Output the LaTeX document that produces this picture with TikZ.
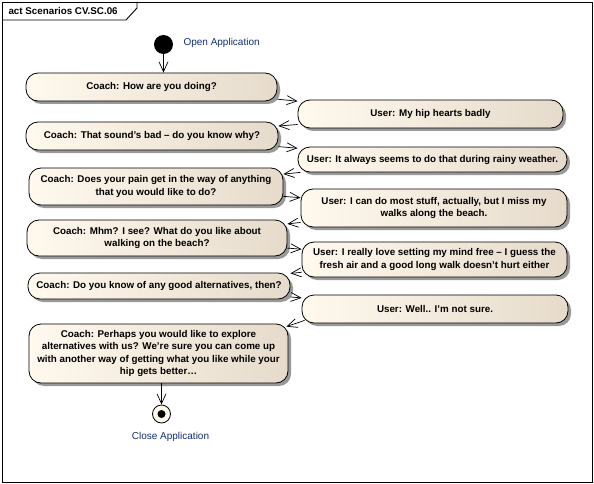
\documentclass[tikz,border=0pt]{standalone}
\usepackage{fontspec}
\setmainfont{Liberation Sans}
\usetikzlibrary{arrows.meta,shadows,calc}
\definecolor{nodeL}{RGB}{255,249,238}
\definecolor{nodeR}{RGB}{230,219,203}
\definecolor{labelblue}{RGB}{20,45,110}
\begin{document}
\begin{tikzpicture}[x=1pt,y=1pt,
  act/.style={rectangle, rounded corners=12pt, draw=black, line width=0.8pt,
    left color=nodeL, right color=nodeR,
    drop shadow={shadow xshift=3pt, shadow yshift=-3pt, fill=black!40, opacity=1},
    font=\bfseries\fontsize{9.8}{12.5}\selectfont, align=center, inner sep=0pt},
  flow/.style={draw=black, line width=0.7pt, -{Straight Barb[length=10pt,width=9pt]}},
  lbl/.style={font=\fontsize{10}{12}\selectfont, text=labelblue}
]
\useasboundingbox (0,0) rectangle (594,-484);
\draw[line width=0.9pt] (2,-2) rectangle (592.5,-482);
\draw[line width=0.9pt] (2,-20) -- (126,-20) -- (137,-8) -- (137,-2);
\node[anchor=west, font=\bfseries\fontsize{9.8}{12}\selectfont] (title) at (5,-11) {act Scenarios CV.SC.06};

\node[circle, fill=black, minimum size=19pt, inner sep=0pt] (start) at (163.5,-44.5) {};
\node[lbl, anchor=west] (openl) at (180,-43) {Open Application};

\node[act, minimum width=251pt, minimum height=28pt] (c1) at (151.5,-87) {Coach: How are you doing?};
\node[act, minimum width=265pt, minimum height=28pt] (u1) at (430.5,-114) {User: My hip hearts badly};
\node[act, minimum width=252pt, minimum height=28pt] (c2) at (152,-136) {Coach: That sound's bad -- do you know why?};
\node[act, minimum width=269pt, minimum height=25pt] (u2) at (432.5,-159.5) {User: It always seems to do that during rainy weather.};
\node[act, minimum width=254pt, minimum height=37pt] (c3) at (156,-186.5) {Coach: Does your pain get in the way of anything\\that you would like to do?};
\node[act, minimum width=266pt, minimum height=38pt] (u3) at (434,-208) {User: I can do most stuff, actually, but I miss my\\walks along the beach.};
\node[act, minimum width=260pt, minimum height=36pt] (c4) at (157,-238) {Coach: Mhm? I see? What do you like about\\walking on the beach?};
\node[act, minimum width=265pt, minimum height=35pt] (u4) at (434.5,-259.5) {User: I really love setting my mind free -- I guess the\\fresh air and a good long walk doesn't hurt either};
\node[act, minimum width=262pt, minimum height=26pt] (c5) at (159,-286) {Coach: Do you know of any good alternatives, then?};
\node[act, minimum width=266pt, minimum height=28pt] (u5) at (435,-309) {User: Well.. I'm not sure.};
\node[act, minimum width=259pt, minimum height=59pt] (c6) at (158.5,-353.5) {Coach: Perhaps you would like to explore\\alternatives with us? We're sure you can come up\\with another way of getting what you like while your\\hip gets better\dots};

\node[circle, draw=black, fill=nodeL, line width=0.8pt, minimum size=18pt, inner sep=0pt] (end) at (161.5,-414) {};
\node[circle, fill=black, minimum size=8pt, inner sep=0pt] (enddot) at (end) {};
\node[lbl] (closel) at (170.5,-437) {Close Application};

\draw[flow] (start.south) -- (start |- c1.north);
\draw[flow] (c1) -- (u1);
\draw[flow] (u1) -- (c2);
\draw[flow] (c2) -- (u2);
\draw[flow] (u2) -- (c3);
\draw[flow] (c3) -- (u3);
\draw[flow] (u3) -- (c4);
\draw[flow] (c4) -- (u4);
\draw[flow] (u4) -- (c5);
\draw[flow] (c5) -- (u5);
\draw[flow] ([shift={(3pt,3pt)}]u5.south west) -- ([shift={(-2pt,-3pt)}]c6.north east);
\draw[flow] (end |- c6.south) -- (end.north);
\end{tikzpicture}
\end{document}
